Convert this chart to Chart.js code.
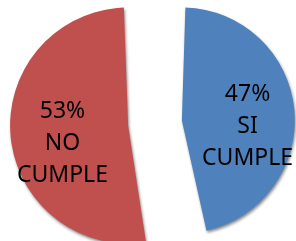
<!DOCTYPE html>
<html>
<head>
<meta charset="utf-8">
<script src="https://cdn.jsdelivr.net/npm/chart.js@4/dist/chart.umd.min.js"></script>
<style>
  html, body { margin: 0; padding: 0; background: #fff; }
  #wrap { width: 296px; height: 241px; position: relative; }
</style>
</head>
<body>
<div id="wrap"><canvas id="pieChart"></canvas></div>
<script>
// datos
const categories = ["SI CUMPLE", "NO CUMPLE"];
const values = [47, 53];
const pctLabels = ["47%", "53%"];
const sliceColors = ["#4F81BD", "#C0504D"];

// etiquetas dentro de cada sector + sombra
const pieDecor = {
  id: "pieDecor",
  beforeDatasetsDraw(chart) {
    const ctx = chart.ctx;
    ctx.save();
    ctx.shadowColor = "rgba(0, 0, 0, 0.45)";
    ctx.shadowBlur = 3;
    ctx.shadowOffsetX = 1;
    ctx.shadowOffsetY = 2;
  },
  afterDatasetsDraw(chart) {
    const ctx = chart.ctx;
    ctx.restore();
    const meta = chart.getDatasetMeta(0);
    ctx.save();
    ctx.fillStyle = "#000";
    ctx.font = "23px 'Noto Sans'";
    ctx.textAlign = "center";
    ctx.textBaseline = "middle";
    meta.data.forEach((arc, i) => {
      const p = arc.getProps(["x", "y", "startAngle", "endAngle", "outerRadius"], true);
      const mid = (p.startAngle + p.endAngle) / 2;
      // ArcElement desplaza el sector offset/4 hacia fuera
      const shift = (arc.options.offset || 0) / 4;
      const d = shift + p.outerRadius * 0.725;
      const cx = p.x + Math.cos(mid) * d;
      const cy = p.y + Math.sin(mid) * d + 12;
      const words = [pctLabels[i]].concat(categories[i].split(" "));
      const lh = 32;
      words.forEach((w, k) => {
        ctx.fillText(w, cx, cy + (k - (words.length - 1) / 2) * lh);
      });
    });
    ctx.restore();
  },
};

const chart = new Chart(document.getElementById("pieChart"), {
  type: "pie",
  data: {
    labels: categories,
    datasets: [
      {
        data: values,
        backgroundColor: sliceColors,
        borderWidth: 0,
        offset: 108,
      },
    ],
  },
  options: {
    responsive: true,
    maintainAspectRatio: false,
    animation: false,
    radius: 91,
    layout: { padding: { left: 14, top: 5 } },
    plugins: {
      legend: { display: false },
      tooltip: { enabled: false },
    },
  },
  plugins: [pieDecor],
});
</script>
</body>
</html>
